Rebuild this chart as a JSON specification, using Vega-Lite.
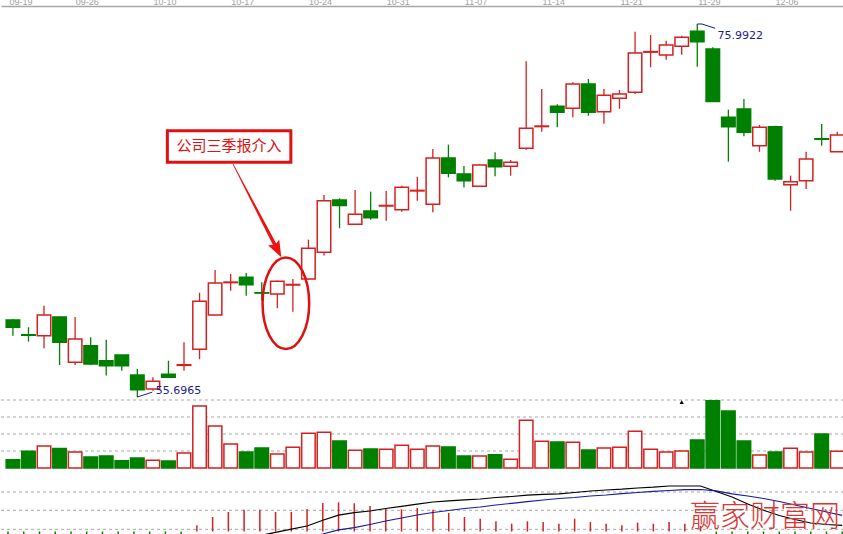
{
  "$schema": "https://vega.github.io/schema/vega-lite/v6.json",
  "padding": {"top": -3, "left": 0, "right": 0, "bottom": 0},
  "spacing": 0,
  "background": "#ffffff",
  "config": {"view": {"stroke": null}, "font": "Liberation Sans"},
  "datasets": {
    "k": [
      {"i": 0, "d": "09-19", "o": 59.89, "h": 59.94, "l": 59.03, "c": 59.49, "v": 0.49, "m": -0.35, "dif": -0.30, "dea": -0.20},
      {"i": 1, "d": "09-20", "o": 59.08, "h": 59.49, "l": 58.71, "c": 59.06, "v": 0.98, "m": -0.40, "dif": -0.35, "dea": -0.23},
      {"i": 2, "d": "09-21", "o": 59.03, "h": 60.66, "l": 58.35, "c": 60.16, "v": 1.29, "m": -0.35, "dif": -0.38, "dea": -0.27},
      {"i": 3, "d": "09-22", "o": 60.05, "h": 60.08, "l": 57.44, "c": 58.67, "v": 1.14, "m": -0.40, "dif": -0.45, "dea": -0.31},
      {"i": 4, "d": "09-23", "o": 57.59, "h": 60.05, "l": 57.44, "c": 58.85, "v": 0.94, "m": -0.40, "dif": -0.52, "dea": -0.36},
      {"i": 5, "d": "09-26", "o": 58.49, "h": 58.95, "l": 57.44, "c": 57.49, "v": 0.65, "m": -0.45, "dif": -0.60, "dea": -0.41},
      {"i": 6, "d": "09-27", "o": 57.67, "h": 58.81, "l": 56.86, "c": 57.40, "v": 0.71, "m": -0.45, "dif": -0.68, "dea": -0.47},
      {"i": 7, "d": "09-28", "o": 57.98, "h": 57.98, "l": 57.13, "c": 57.40, "v": 0.43, "m": -0.45, "dif": -0.75, "dea": -0.53},
      {"i": 8, "d": "09-29", "o": 56.89, "h": 57.22, "l": 55.6965, "c": 56.09, "v": 0.59, "m": -0.50, "dif": -0.85, "dea": -0.60},
      {"i": 9, "d": "09-30", "o": 56.13, "h": 56.77, "l": 56.04, "c": 56.55, "v": 0.45, "m": -0.50, "dif": -0.92, "dea": -0.66},
      {"i": 10, "d": "10-10", "o": 56.93, "h": 57.67, "l": 56.76, "c": 56.77, "v": 0.41, "m": -0.45, "dif": -0.95, "dea": -0.72},
      {"i": 11, "d": "10-11", "o": 57.42, "h": 58.67, "l": 57.13, "c": 57.45, "v": 0.88, "m": -0.40, "dif": -0.95, "dea": -0.76},
      {"i": 12, "d": "10-12", "o": 58.29, "h": 61.37, "l": 57.75, "c": 60.90, "v": 3.65, "m": 0.31, "dif": -0.80, "dea": -0.77},
      {"i": 13, "d": "10-13", "o": 60.16, "h": 62.61, "l": 60.13, "c": 61.90, "v": 2.47, "m": 0.725, "dif": -0.60, "dea": -0.73},
      {"i": 14, "d": "10-14", "o": 61.92, "h": 62.39, "l": 61.48, "c": 61.95, "v": 1.41, "m": 0.975, "dif": -0.45, "dea": -0.68},
      {"i": 15, "d": "10-17", "o": 62.21, "h": 62.44, "l": 61.21, "c": 61.81, "v": 0.94, "m": 1.09, "dif": -0.33, "dea": -0.62},
      {"i": 16, "d": "10-18", "o": 61.37, "h": 61.94, "l": 60.94, "c": 61.35, "v": 1.18, "m": 1.09, "dif": -0.21, "dea": -0.56},
      {"i": 17, "d": "10-19", "o": 61.30, "h": 62.04, "l": 60.52, "c": 61.99, "v": 0.82, "m": 0.975, "dif": -0.04, "dea": -0.49},
      {"i": 18, "d": "10-20", "o": 61.79, "h": 62.12, "l": 60.34, "c": 61.82, "v": 1.22, "m": 0.975, "dif": 0.115, "dea": -0.40},
      {"i": 19, "d": "10-21", "o": 62.12, "h": 64.26, "l": 62.09, "c": 63.79, "v": 2.04, "m": 1.125, "dif": 0.275, "dea": -0.27},
      {"i": 20, "d": "10-24", "o": 63.57, "h": 66.69, "l": 63.39, "c": 66.38, "v": 2.10, "m": 1.425, "dif": 0.56, "dea": -0.125},
      {"i": 21, "d": "10-25", "o": 66.42, "h": 66.51, "l": 64.88, "c": 66.11, "v": 1.59, "m": 1.46, "dif": 0.815, "dea": 0.085},
      {"i": 22, "d": "10-26", "o": 65.09, "h": 66.96, "l": 65.07, "c": 65.64, "v": 1.04, "m": 1.41, "dif": 0.94, "dea": 0.19},
      {"i": 23, "d": "10-27", "o": 65.82, "h": 66.87, "l": 65.34, "c": 65.45, "v": 1.12, "m": 1.275, "dif": 1.025, "dea": 0.35},
      {"i": 24, "d": "10-28", "o": 66.09, "h": 66.91, "l": 65.29, "c": 66.12, "v": 1.10, "m": 1.175, "dif": 1.15, "dea": 0.525},
      {"i": 25, "d": "10-31", "o": 65.89, "h": 67.19, "l": 65.78, "c": 67.11, "v": 1.34, "m": 1.11, "dif": 1.26, "dea": 0.675},
      {"i": 26, "d": "11-01", "o": 66.91, "h": 67.68, "l": 66.38, "c": 66.94, "v": 1.10, "m": 1.175, "dif": 1.365, "dea": 0.825},
      {"i": 27, "d": "11-02", "o": 66.18, "h": 69.19, "l": 65.75, "c": 68.70, "v": 1.29, "m": 1.09, "dif": 1.475, "dea": 0.95},
      {"i": 28, "d": "11-03", "o": 68.70, "h": 69.43, "l": 67.65, "c": 67.87, "v": 1.24, "m": 0.925, "dif": 1.53, "dea": 1.05},
      {"i": 29, "d": "11-04", "o": 67.83, "h": 68.27, "l": 67.10, "c": 67.47, "v": 0.71, "m": 0.725, "dif": 1.585, "dea": 1.15},
      {"i": 30, "d": "11-07", "o": 67.16, "h": 68.38, "l": 67.13, "c": 68.32, "v": 0.71, "m": 0.64, "dif": 1.625, "dea": 1.225},
      {"i": 31, "d": "11-08", "o": 68.59, "h": 69.01, "l": 67.71, "c": 68.23, "v": 0.78, "m": 0.51, "dif": 1.70, "dea": 1.325},
      {"i": 32, "d": "11-09", "o": 68.25, "h": 68.59, "l": 67.74, "c": 68.47, "v": 0.51, "m": 0.39, "dif": 1.75, "dea": 1.41},
      {"i": 33, "d": "11-10", "o": 69.23, "h": 73.96, "l": 69.15, "c": 70.32, "v": 2.81, "m": 0.51, "dif": 1.815, "dea": 1.495},
      {"i": 34, "d": "11-11", "o": 70.41, "h": 72.46, "l": 70.13, "c": 70.44, "v": 1.57, "m": 0.475, "dif": 1.86, "dea": 1.575},
      {"i": 35, "d": "11-14", "o": 71.52, "h": 71.62, "l": 70.37, "c": 71.19, "v": 1.53, "m": 0.39, "dif": 1.885, "dea": 1.65},
      {"i": 36, "d": "11-15", "o": 71.41, "h": 72.82, "l": 70.92, "c": 72.73, "v": 1.51, "m": 0.64, "dif": 1.95, "dea": 1.70},
      {"i": 37, "d": "11-16", "o": 72.73, "h": 73.00, "l": 71.00, "c": 71.19, "v": 1.06, "m": 0.475, "dif": 2.025, "dea": 1.775},
      {"i": 38, "d": "11-17", "o": 71.22, "h": 72.46, "l": 70.57, "c": 72.11, "v": 1.18, "m": 0.39, "dif": 2.075, "dea": 1.825},
      {"i": 39, "d": "11-18", "o": 71.95, "h": 72.40, "l": 71.38, "c": 72.18, "v": 1.22, "m": 0.31, "dif": 2.115, "dea": 1.895},
      {"i": 40, "d": "11-21", "o": 72.28, "h": 75.57, "l": 72.18, "c": 74.41, "v": 2.16, "m": 0.44, "dif": 2.175, "dea": 1.95},
      {"i": 41, "d": "11-22", "o": 74.46, "h": 75.39, "l": 73.64, "c": 74.49, "v": 1.10, "m": 0.39, "dif": 2.215, "dea": 2.01},
      {"i": 42, "d": "11-23", "o": 74.31, "h": 75.08, "l": 74.05, "c": 74.85, "v": 0.94, "m": 0.475, "dif": 2.275, "dea": 2.05},
      {"i": 43, "d": "11-25", "o": 74.78, "h": 75.36, "l": 74.32, "c": 75.27, "v": 1.00, "m": 0.39, "dif": 2.275, "dea": 2.09},
      {"i": 44, "d": "11-28", "o": 75.60, "h": 75.9922, "l": 73.67, "c": 75.03, "v": 1.65, "m": 0.275, "dif": 2.275, "dea": 2.10},
      {"i": 45, "d": "11-29", "o": 74.63, "h": 74.73, "l": 71.75, "c": 71.77, "v": 3.98, "m": -0.30, "dif": 2.00, "dea": 2.035},
      {"i": 46, "d": "11-30", "o": 70.92, "h": 71.33, "l": 68.50, "c": 70.40, "v": 3.35, "m": -0.50, "dif": 1.725, "dea": 1.885},
      {"i": 47, "d": "12-01", "o": 71.37, "h": 71.91, "l": 69.88, "c": 70.10, "v": 1.59, "m": -0.70, "dif": 1.375, "dea": 1.775},
      {"i": 48, "d": "12-02", "o": 69.37, "h": 70.50, "l": 69.04, "c": 70.37, "v": 0.76, "m": -0.80, "dif": 1.06, "dea": 1.65},
      {"i": 49, "d": "12-05", "o": 70.40, "h": 70.46, "l": 67.47, "c": 67.56, "v": 0.94, "m": -0.90, "dif": 0.80, "dea": 1.50},
      {"i": 50, "d": "12-06", "o": 67.25, "h": 67.74, "l": 65.83, "c": 67.41, "v": 1.16, "m": -0.90, "dif": 0.60, "dea": 1.325},
      {"i": 51, "d": "12-07", "o": 67.47, "h": 69.04, "l": 67.01, "c": 68.65, "v": 0.94, "m": -0.80, "dif": 0.425, "dea": 1.15},
      {"i": 52, "d": "12-08", "o": 69.75, "h": 70.55, "l": 69.37, "c": 69.72, "v": 2.00, "m": -0.70, "dif": 0.35, "dea": 0.975},
      {"i": 53, "d": "12-09", "o": 69.04, "h": 70.13, "l": 69.03, "c": 69.95, "v": 0.98, "m": -0.60, "dif": 0.31, "dea": 0.81}
    ],
    "pl": [
      {"g": "hi", "k": 0, "i": 44.0, "p": 75.9922},
      {"g": "hi", "k": 1, "i": 44.3, "p": 75.9922},
      {"g": "hi", "k": 2, "i": 45.15, "p": 75.76},
      {"g": "lo", "k": 0, "i": 8.0, "p": 55.6965},
      {"g": "lo", "k": 1, "i": 8.96, "p": 55.96}
    ],
    "ann": [
      {"label": "75.9922", "i": 45.3, "p": 75.355},
      {"label": "55.6965", "i": 9.19, "p": 56.04}
    ],
    "box": [{"i1": 9.93, "i2": 17.87, "p1": 68.467, "p2": 70.187}],
    "callout": [{"t": "公司三季报介入", "i": 13.9, "p": 69.33}],
    "arrow": [{"i": 15.705, "p": 65.834}],
    "ring": [{"i": 17.55, "p": 60.80}],
    "flag": [{"i": 43, "v": 3.88}],
    "vgrid": [{"v": 1}, {"v": 2}, {"v": 3}, {"v": 4}],
    "mgrid": [{"m": 0.11}, {"m": 1.06}, {"m": 1.975}],
    "wm": [{"t": "赢家财富网", "i": 48.1, "y": 0.725}]
  },
  "vconcat": [
    {
      "width": 843,
      "height": 391,
      "data": {"name": "k"},
      "layer": [
        {
          "mark": {"type": "rule", "strokeWidth": 1.3, "clip": true},
          "encoding": {
            "x": {
              "field": "i", "type": "quantitative",
              "scale": {"domain": [-0.4447, 53.1131], "nice": false, "zero": false},
              "axis": {
                "orient": "top",
                "values": [0, 5, 10, 15, 20, 25, 30, 35, 40, 45, 50],
                "labelExpr": "['09-19','09-26','10-10','10-17','10-24','10-31','11-07','11-14','11-21','11-29','12-06'][round(datum.value/5)]",
                "ticks": false, "grid": false, "title": null,
                "domainColor": "#a8a8a8", "domainWidth": 1.5,
                "labelColor": "#a0a0a0", "labelFontSize": 9, "labelFont": "Liberation Sans",
                "labelPadding": 0,
                "labelAlign": {"condition": {"test": "datum.value == 0", "value": "left"}, "value": "center"},
                "labelOffset": -4,
                "labelFlush": false,
                "labelOverlap": false, "labelBound": false,
                "minExtent": 7, "maxExtent": 7
              }
            },
            "y": {"field": "l", "type": "quantitative", "scale": {"domain": [55.6965, 76.972], "nice": false, "zero": false}, "axis": null},
            "y2": {"field": "h"},
            "color": {"condition": {"test": "datum.c >= datum.o", "value": "#d42020"}, "value": "#008000"}
          }
        },
        {
          "mark": {"type": "bar", "size": 13.5, "strokeWidth": 1.5, "clip": true},
          "encoding": {
            "x": {"field": "i", "type": "quantitative"},
            "y": {"field": "o", "type": "quantitative"},
            "y2": {"field": "c"},
            "fill": {"condition": {"test": "datum.c >= datum.o", "value": "#ffffff"}, "value": "#008000"},
            "stroke": {"condition": {"test": "datum.c >= datum.o", "value": "#d42020"}, "value": "#008000"}
          }
        },
        {
          "data": {"name": "pl"},
          "mark": {"type": "line", "color": "#1c1c8c", "strokeWidth": 1},
          "encoding": {
            "x": {"field": "i", "type": "quantitative"},
            "y": {"field": "p", "type": "quantitative"},
            "detail": {"field": "g"},
            "order": {"field": "k"}
          }
        },
        {
          "data": {"name": "ann"},
          "mark": {"type": "text", "align": "left", "baseline": "middle", "font": "DejaVu Sans", "fontSize": 11, "color": "#1c1c8c"},
          "encoding": {
            "x": {"field": "i", "type": "quantitative"},
            "y": {"field": "p", "type": "quantitative"},
            "text": {"field": "label"}
          }
        },
        {
          "data": {"name": "box"},
          "mark": {"type": "rect", "fill": "#ffffff", "stroke": "#e01010", "strokeWidth": 3},
          "encoding": {
            "x": {"field": "i1", "type": "quantitative"},
            "x2": {"field": "i2"},
            "y": {"field": "p1", "type": "quantitative"},
            "y2": {"field": "p2"}
          }
        },
        {
          "data": {"name": "callout"},
          "mark": {"type": "text", "align": "center", "baseline": "middle", "font": "Noto Sans CJK SC", "fontSize": 15, "color": "#e01010"},
          "encoding": {
            "x": {"field": "i", "type": "quantitative"},
            "y": {"field": "p", "type": "quantitative"},
            "text": {"field": "t"}
          }
        },
        {
          "data": {"name": "arrow"},
          "mark": {"type": "point", "shape": "M-0.008,-1L0.008,-1L0.035,0.72L0.12,0.68L0,1L-0.12,0.68L-0.035,0.72Z", "filled": true, "color": "#f01010", "opacity": 1, "size": 11025, "angle": -27.4},
          "encoding": {
            "x": {"field": "i", "type": "quantitative"},
            "y": {"field": "p", "type": "quantitative"}
          }
        },
        {
          "data": {"name": "ring"},
          "mark": {"type": "point", "shape": "M0,-1A0.509,1,0,1,1,0,1A0.509,1,0,1,1,0,-1Z", "filled": false, "stroke": "#e01010", "strokeWidth": 2.5, "opacity": 1, "size": 8391},
          "encoding": {
            "x": {"field": "i", "type": "quantitative"},
            "y": {"field": "p", "type": "quantitative"}
          }
        }
      ]
    },
    {
      "width": 843,
      "height": 85,
      "layer": [
        {
          "data": {"name": "vgrid"},
          "mark": {"type": "rule", "color": "#a8a8a8", "strokeWidth": 1, "strokeDash": [3, 3]},
          "encoding": {
            "y": {"field": "v", "type": "quantitative", "scale": {"domain": [-1, 4], "nice": false, "zero": false}, "axis": null}
          }
        },
        {
          "data": {"name": "k"},
          "mark": {"type": "bar", "size": 13.5, "strokeWidth": 1.5, "clip": true},
          "encoding": {
            "x": {"field": "i", "type": "quantitative", "scale": {"domain": [-0.4447, 53.1131], "nice": false, "zero": false}, "axis": null},
            "y": {"field": "v", "type": "quantitative"},
            "y2": {"datum": 0},
            "fill": {"condition": {"test": "datum.c >= datum.o", "value": "#ffffff"}, "value": "#008000"},
            "stroke": {"condition": {"test": "datum.c >= datum.o", "value": "#d42020"}, "value": "#008000"}
          }
        },
        {
          "mark": {"type": "rule", "color": "#a0a0a0", "strokeWidth": 2},
          "encoding": {"y": {"datum": 0}}
        },
        {
          "data": {"name": "flag"},
          "mark": {"type": "point", "shape": "triangle-up", "filled": true, "color": "#000000", "opacity": 1, "size": 18},
          "encoding": {
            "x": {"field": "i", "type": "quantitative"},
            "y": {"field": "v", "type": "quantitative"}
          }
        }
      ]
    },
    {
      "width": 843,
      "height": 51,
      "layer": [
        {
          "data": {"name": "mgrid"},
          "mark": {"type": "rule", "color": "#a8a8a8", "strokeWidth": 1, "strokeDash": [3, 3]},
          "encoding": {
            "y": {"field": "m", "type": "quantitative", "scale": {"domain": [-0.225, 2.325], "nice": false, "zero": false}, "axis": null}
          }
        },
        {
          "data": {"name": "k"},
          "mark": {"type": "rule", "strokeWidth": 1.5, "clip": true},
          "encoding": {
            "x": {"field": "i", "type": "quantitative", "scale": {"domain": [-0.4447, 53.1131], "nice": false, "zero": false}, "axis": null},
            "y": {"field": "m", "type": "quantitative"},
            "y2": {"datum": 0},
            "color": {"condition": {"test": "datum.m >= 0", "value": "#d42020"}, "value": "#008000"}
          }
        },
        {
          "data": {"name": "k"},
          "mark": {"type": "line", "color": "#000000", "strokeWidth": 1.2, "clip": true},
          "encoding": {
            "x": {"field": "i", "type": "quantitative"},
            "y": {"field": "dif", "type": "quantitative"}
          }
        },
        {
          "data": {"name": "k"},
          "mark": {"type": "line", "color": "#1a1aa0", "strokeWidth": 1.2, "clip": true},
          "encoding": {
            "x": {"field": "i", "type": "quantitative"},
            "y": {"field": "dea", "type": "quantitative"}
          }
        },
        {
          "mark": {"type": "rule", "color": "#a0a0a0", "strokeWidth": 1.5},
          "encoding": {"y": {"datum": 2.325}}
        },
        {
          "data": {"name": "wm"},
          "mark": {"type": "text", "align": "center", "baseline": "middle", "font": "Noto Sans CJK SC", "fontSize": 30, "fontWeight": 300, "color": "#d83838"},
          "encoding": {
            "x": {"field": "i", "type": "quantitative"},
            "y": {"field": "y", "type": "quantitative"},
            "text": {"field": "t"}
          }
        }
      ]
    }
  ]
}
